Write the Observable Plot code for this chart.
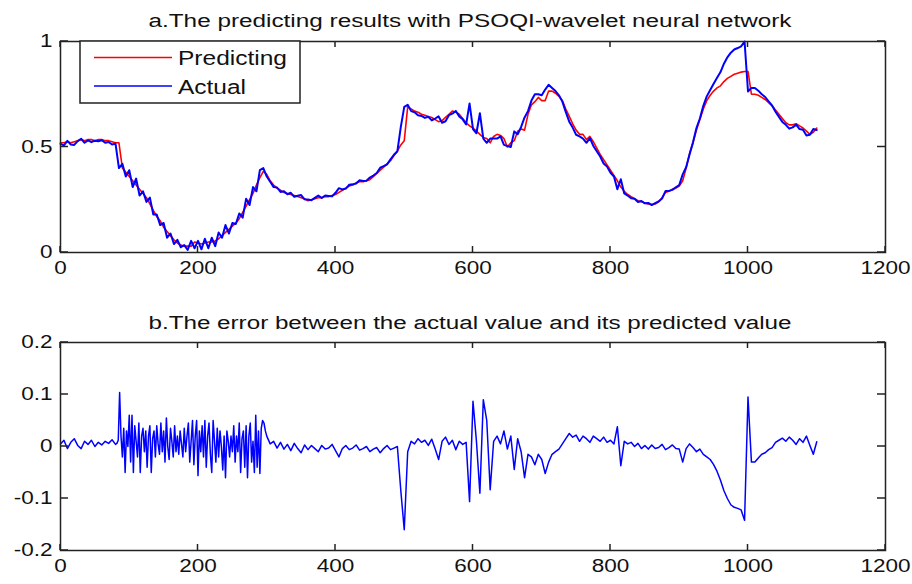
<!DOCTYPE html>
<html><head><meta charset="utf-8">
<script src="https://cdn.jsdelivr.net/npm/d3@7"></script>
<script src="https://cdn.jsdelivr.net/npm/@observablehq/plot@0.6"></script>
<style>
html,body{margin:0;padding:0;background:#fff;}
#chart{width:912px;height:584px;position:relative;overflow:hidden;}
#chart svg{display:block;}
</style></head><body><div id="chart"></div>
<script>
// ---- panel a: values read every 5 samples (0..1100) ----
const step = 5;
const predicted = [
  .52,.52,.525,.52,.525,.53,.535,.53,.535,.535,.53,.535,.535,.53,.53,.525,.52,.52,.40,.38,
  .36,.34,.32,.30,.28,.26,.23,.20,.17,.15,.12,.10,.08,.06,.045,.035,.03,.03,.03,.05,
  .045,.04,.045,.05,.05,.055,.065,.08,.095,.11,.125,.14,.16,.19,.22,.25,.28,.32,.355,.385,
  .37,.34,.32,.305,.295,.285,.28,.275,.27,.265,.26,.255,.245,.25,.255,.26,.26,.265,.265,.27,
  .275,.285,.295,.305,.315,.32,.33,.335,.335,.34,.345,.36,.375,.39,.405,.42,.435,.46,.48,.51,
  .53,.69,.68,.67,.665,.655,.65,.645,.64,.63,.62,.625,.64,.655,.67,.665,.655,.635,.615,.60,
  .59,.575,.56,.545,.54,.52,.55,.56,.555,.54,.50,.52,.53,.575,.585,.58,.655,.70,.715,.735,
  .72,.72,.765,.765,.755,.74,.72,.68,.645,.61,.58,.56,.56,.535,.55,.525,.495,.465,.44,.415,
  .39,.365,.34,.31,.29,.275,.265,.255,.245,.24,.235,.23,.228,.23,.24,.26,.285,.29,.30,.305,
  .315,.34,.40,.47,.52,.58,.63,.68,.72,.745,.765,.78,.79,.81,.825,.835,.845,.85,.855,.858,
  .858,.75,.75,.745,.735,.725,.71,.695,.675,.655,.635,.615,.605,.605,.61,.60,.59,.575,.56,.57,
  .59
];
const actual = [
  .515,.508,.529,.512,.51,.528,.539,.52,.531,.523,.53,.527,.532,.52,.524,.512,.516,.40,.42,.36,
  .39,.31,.35,.27,.29,.24,.26,.18,.18,.13,.14,.07,.09,.04,.06,.025,.035,.012,.055,.02,
  .055,.015,.065,.02,.07,.03,.095,.07,.13,.09,.14,.135,.185,.165,.255,.225,.31,.29,.39,.40,
  .36,.335,.31,.308,.287,.29,.276,.283,.264,.269,.272,.252,.251,.248,.259,.27,.258,.27,.268,.266,
  .283,.305,.299,.303,.321,.323,.327,.342,.339,.34,.355,.365,.377,.402,.409,.418,.441,.463,.48,.595,
  .69,.70,.67,.665,.65,.647,.638,.643,.626,.635,.645,.615,.622,.651,.658,.671,.645,.631,.607,.706,
  .585,.565,.66,.54,.52,.54,.54,.54,.55,.51,.505,.50,.574,.56,.595,.64,.67,.72,.75,.75,
  .745,.772,.795,.78,.765,.745,.715,.665,.62,.592,.558,.55,.54,.52,.542,.505,.48,.455,.422,.407,
  .378,.36,.30,.347,.28,.27,.257,.255,.239,.244,.233,.235,.225,.234,.242,.256,.291,.292,.297,.309,
  .32,.37,.404,.465,.522,.59,.635,.695,.74,.77,.80,.828,.855,.895,.925,.947,.962,.969,.977,1.0,
  .763,.78,.78,.767,.75,.737,.716,.697,.667,.643,.619,.605,.587,.593,.606,.585,.582,.555,.558,.585,
  .581
];

// ---- panel b: error values (sample index segments: 0..80 by 5, 82..300 by 2, 305..1100 by 5) ----
const errIndex = [...d3.range(0, 81, 5), ...d3.range(82, 301, 2), ...d3.range(305, 1101, 5)];
const errorValues = [
  // 0..80
  .005,.012,-.004,.008,.015,.002,-.004,.01,.004,.012,0,.008,.003,.01,.006,.013,.004,
  // 82..300
  .006,.012,.104,.02,-.02,.035,-.05,.03,0,.06,-.03,.06,-.05,.04,.01,-.02,.045,-.05,.02,.035,
  -.01,.03,-.04,.02,.04,-.05,.015,.03,-.02,.04,.005,-.015,.045,-.01,.03,-.03,.055,0,-.025,.035,
  .01,-.02,.04,-.01,.02,-.015,.03,.005,-.02,.035,-.01,.02,.045,-.03,.01,.05,-.035,.02,.05,-.056,
  .03,-.01,.04,-.02,.05,-.04,.02,.045,-.015,-.05,.05,.01,-.03,.035,-.02,.03,0,-.045,.02,-.06,
  .03,.01,-.02,.02,-.01,.04,-.03,.02,-.01,.045,-.05,.015,.03,-.04,.04,-.06,.02,.045,-.03,.01,
  -.05,.06,-.04,.03,-.052,.035,.05,.045,.03,.02,
  // 305..1100
  .005,.01,-.003,.008,-.005,.004,-.008,.006,-.004,-.012,.003,-.006,.002,-.004,-.01,.002,-.005,-.003,.004,
  -.008,-.02,-.004,.002,-.006,-.003,.003,-.007,-.004,0,-.01,-.005,-.002,-.012,-.004,.002,-.006,-.003,0,-.085,
  -.16,-.01,.01,.005,.015,.008,.012,.002,.014,-.005,-.025,.01,.018,.004,.012,-.006,.01,.004,.008,-.106,
  .087,.01,-.09,.09,.05,-.083,.01,.02,.005,.03,-.005,.02,-.044,.015,-.01,-.06,-.015,-.02,-.035,-.015,
  -.025,-.052,-.03,-.015,-.01,-.005,.005,.015,.025,.018,.022,.01,.02,.015,.008,.02,.015,.01,.018,.008,
  .012,.005,.038,-.037,.01,.005,.008,0,.006,-.004,.002,-.005,.003,-.004,-.002,.004,-.006,-.002,.003,-.004,
  -.005,-.03,-.004,.005,-.002,-.01,-.005,-.015,-.02,-.025,-.035,-.048,-.065,-.085,-.10,-.112,-.117,-.119,-.122,-.142,
  .095,-.03,-.03,-.022,-.015,-.012,-.006,-.002,.008,.012,.016,.01,.018,.012,.004,.015,.008,.02,.002,-.015,.009
];

const xTicks = [0, 200, 400, 600, 800, 1000, 1200];
const yTicksA = [0, 0.5, 1];
const yTicksB = [-0.2, -0.1, 0, 0.1, 0.2];
const titleA = "a.The predicting results with PSOQI-wavelet neural network";
const titleB = "b.The error between the actual value and its predicted value";
const legendLabels = ["Predicting", "Actual"];
const colorPred = "#ff0000";
const colorAct = "#0000ff";

const rowsA = predicted.map((p, k) => ({i: k * step, predicted: p, actual: actual[k]}));
const rowsB = errorValues.map((e, k) => ({i: errIndex[k], error: e}));

const W = 912, H = 292, ML = 60, MR = 27;
const ink = "#222";
const fmt = d => String(d);

function axes(yTicks) {
  return [
    Plot.axisX(xTicks, {anchor: "bottom", tickSize: 0, tickPadding: 9, tickFormat: fmt, label: null}),
    Plot.axisY(yTicks, {anchor: "left", tickSize: 0, tickPadding: 8, tickFormat: fmt, label: null}),
    Plot.frame({stroke: ink, strokeWidth: 1.5})
  ];
}

const style = {fontFamily: "Liberation Sans, Arial, sans-serif", fontSize: "18px", color: "#111", background: "#fff", overflow: "visible"};

const plotA = Plot.plot({
  width: W, height: H, marginLeft: ML, marginRight: MR, marginTop: 41, marginBottom: 40,
  style,
  x: {domain: [0, 1200]},
  y: {domain: [0, 1]},
  marks: [
    Plot.line(rowsA, {x: "i", y: "predicted", stroke: colorPred, strokeWidth: 1.6}),
    Plot.line(rowsA, {x: "i", y: "actual", stroke: colorAct, strokeWidth: 2}),
    ...axes(yTicksA)
  ]
});

const plotB = Plot.plot({
  width: W, height: H, marginLeft: ML, marginRight: MR, marginTop: 50, marginBottom: 34,
  style,
  x: {domain: [0, 1200]},
  y: {domain: [-0.2, 0.2]},
  marks: [
    Plot.line(rowsB, {x: "i", y: "error", stroke: colorAct, strokeWidth: 1.5}),
    ...axes(yTicksB)
  ]
});

const host = document.getElementById("chart");
host.appendChild(plotA);
host.appendChild(plotB);

// stretch tick labels horizontally like the reference
d3.select(host).selectAll("svg text").each(function() {
  const w = this.getComputedTextLength();
  if (w > 0) {
    this.setAttribute("textLength", (w * 1.25).toFixed(1));
    this.setAttribute("lengthAdjust", "spacingAndGlyphs");
  }
});

// inward tick marks on all four sides, placed with each plot's own scales
function inwardTicks(plot, yTicks) {
  const sx = plot.scale("x"), sy = plot.scale("y");
  const [x0, x1] = sx.range, [yb, yt] = sy.range;
  const g = d3.select(plot).append("g").attr("stroke", ink).attr("stroke-width", 1.5);
  xTicks.forEach(v => {
    const X = sx.apply(v);
    g.append("line").attr("x1", X).attr("x2", X).attr("y1", yb).attr("y2", yb - 6);
    g.append("line").attr("x1", X).attr("x2", X).attr("y1", yt).attr("y2", yt + 6);
  });
  yTicks.forEach(v => {
    const Y = sy.apply(v);
    g.append("line").attr("x1", x0).attr("x2", x0 + 8).attr("y1", Y).attr("y2", Y);
    g.append("line").attr("x1", x1).attr("x2", x1 - 8).attr("y1", Y).attr("y2", Y);
  });
}
inwardTicks(plotA, yTicksA);
inwardTicks(plotB, yTicksB);

// titles
const sA = d3.select(plotA), sB = d3.select(plotB);
function addTitle(sel, txt, y) {
  sel.append("text").attr("x", 470).attr("y", y).attr("text-anchor", "middle")
    .attr("font-size", 18).attr("fill", "#111")
    .attr("textLength", 643).attr("lengthAdjust", "spacingAndGlyphs").text(txt);
}
addTitle(sA, titleA, 26.5);
addTitle(sB, titleB, 37);

// legend
const lg = sA.append("g");
lg.append("rect").attr("x", 80).attr("y", 41).attr("width", 220).attr("height", 62)
  .attr("fill", "#fff").attr("stroke", ink).attr("stroke-width", 1.5);
[[colorPred, 57.5, 65, 109], [colorAct, 86, 93.5, 68]].forEach(([c, ly, ty, tl], k) => {
  lg.append("line").attr("x1", 94).attr("x2", 172).attr("y1", ly).attr("y2", ly)
    .attr("stroke", c).attr("stroke-width", 1.5);
  lg.append("text").attr("x", 178).attr("y", ty).attr("font-size", 20).attr("fill", "#111")
    .attr("text-anchor", "start")
    .attr("textLength", tl).attr("lengthAdjust", "spacingAndGlyphs").text(legendLabels[k]);
});
</script></body></html>
